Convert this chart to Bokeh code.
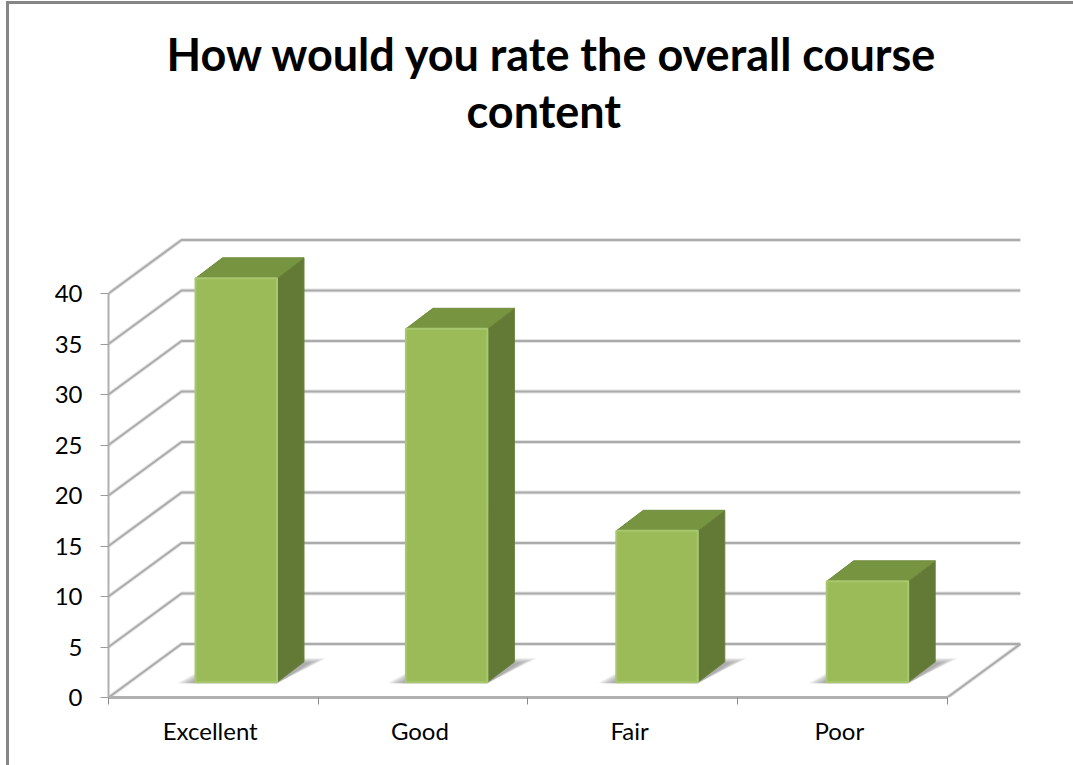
from bokeh.plotting import figure
from bokeh.models import Range1d, FixedTicker, LinearAxis, Title
from bokeh.embed import file_html
from bokeh.resources import INLINE

# data
categories = ["Excellent", "Good", "Fair", "Poor"]
values = [40, 35, 15, 10]
y_ticks = [0, 5, 10, 15, 20, 25, 30, 35, 40]
title_lines = ["How would you rate the overall course", "content"]

# pixel scale of the plot area
W, H = 1073, 765
LEFT, BOTTOM_PX, TOP_PX = 108, 697, 137
CAT_PX, VAL_PX = 209.7, 10.1

p = figure(width=W, height=H, output_backend="svg", toolbar_location=None,
           x_range=Range1d(0, (W - LEFT) / CAT_PX),
           y_range=Range1d(0, (BOTTOM_PX - TOP_PX) / VAL_PX),
           x_axis_type=None, y_axis_type=None,
           min_border_left=LEFT, min_border_right=0,
           min_border_bottom=H - BOTTOM_PX, min_border_top=TOP_PX,
           outline_line_color=None, background_fill_color="white",
           border_fill_color="white")
p.margin = (0, 0, 0, 0)
p.grid.visible = False
p.stylesheets = [":host::after{content:'';position:absolute;left:6px;top:1px;right:0;bottom:0;"
                 "border-left:3px solid #868686;border-top:3px solid #868686;pointer-events:none;}"]

def cx(px):
    return px / CAT_PX

def vy(px):
    return px / VAL_PX

WALL_DX, WALL_DY = cx(73), vy(53.5)
n = len(categories)
GRID = "#ababab"

# walls: diagonals and back-wall lines
xs_grid, ys_grid = [], []
for t in y_ticks:
    xs_grid.append([0, WALL_DX, n + WALL_DX])
    ys_grid.append([t, t + WALL_DY, t + WALL_DY])
xs_grid.append([n, n + WALL_DX])
ys_grid.append([0, WALL_DY])
p.multi_line(xs_grid, ys_grid, line_color="#8f8f8f", line_alpha=0.25, line_width=4)
p.multi_line(xs_grid, ys_grid, line_color=GRID, line_width=2)

# bar geometry
BAR_OFF, BAR_W, BAR_STEP = cx(87), cx(81.5), cx(210.4)
BASE = vy(15.2)
SIDE_DX, SIDE_DY = cx(27), vy(20.5)

# floor shadows
for s in [1.0, 0.85, 0.7, 0.55, 0.4, 0.25]:
    sx, sy = [], []
    for i in range(n):
        x0 = i * BAR_STEP + BAR_OFF
        x1 = x0 + BAR_W
        sx.append([x0 - cx(18) * s, x1, x1 + SIDE_DX + cx(22) * s, x0 + SIDE_DX])
        sy.append([BASE - vy(1), BASE - vy(1), BASE + vy(24) * (0.75 + 0.25 * s), BASE + vy(24) * (0.75 + 0.25 * s)])
    p.patches(sx, sy, fill_color="#7a7a7a", fill_alpha=0.14, line_color=None)

# bars
fx, fy, sx, sy, tx, ty = [], [], [], [], [], []
for i, v in enumerate(values):
    x0 = i * BAR_STEP + BAR_OFF
    x1 = x0 + BAR_W
    top = BASE + v
    fx.append([x0, x1, x1, x0])
    fy.append([BASE, BASE, top, top])
    sx.append([x1, x1 + SIDE_DX, x1 + SIDE_DX, x1])
    sy.append([BASE, BASE + SIDE_DY, top + SIDE_DY, top])
    tx.append([x0, x1, x1 + SIDE_DX, x0 + SIDE_DX])
    ty.append([top, top, top + SIDE_DY, top + SIDE_DY])
p.patches(sx, sy, fill_color="#637a37", line_color="#6a823b", line_width=1)
p.patches(tx, ty, fill_color="#779440", line_color="#6f8b3d", line_width=1)
p.patches(fx, fy, fill_color="#9bbb59", line_color="#a8c870", line_width=2)

# axes
yaxis = LinearAxis(ticker=FixedTicker(ticks=y_ticks), bounds=(0, y_ticks[-1]))
yaxis.axis_line_color = "#b0b0b0"
yaxis.axis_line_width = 2
yaxis.major_tick_line_color = "#9a9a9a"
yaxis.major_tick_line_width = 1
yaxis.major_tick_in = 0
yaxis.major_tick_out = 8
yaxis.minor_tick_line_color = None
yaxis.major_label_text_font = "Lato"
yaxis.major_label_text_font_size = "24px"
yaxis.major_label_text_color = "black"
yaxis.major_label_standoff = 18
p.add_layout(yaxis, "left")

centers = [i + 0.485 for i in range(n)]
xaxis = LinearAxis(ticker=FixedTicker(ticks=centers, minor_ticks=list(range(n + 1))), bounds=(0, n))
xaxis.major_label_overrides = {c: name for c, name in zip(centers, categories)}
xaxis.axis_line_color = "#b0b0b0"
xaxis.axis_line_width = 3
xaxis.major_tick_line_color = None
xaxis.major_tick_in = 0
xaxis.major_tick_out = 0
xaxis.minor_tick_line_color = "#8a8a8a"
xaxis.minor_tick_line_width = 1
xaxis.minor_tick_in = 0
xaxis.minor_tick_out = 7
xaxis.major_label_text_font = "Lato"
xaxis.major_label_text_font_size = "24px"
xaxis.major_label_text_color = "black"
xaxis.major_label_standoff = 11
p.add_layout(xaxis, "below")

# title: two lines, nearest to the plot first
p.title = None
for line, start, standoff in [(title_lines[1], 466, 0), (title_lines[0], 166, 1)]:
    p.add_layout(Title(text=line, align="left", offset=start - LEFT, text_font="Lato",
                       text_font_style="bold", text_font_size="45px", text_color="black",
                       standoff=standoff), "above")

open("out.html", "w").write(file_html(p, INLINE))
